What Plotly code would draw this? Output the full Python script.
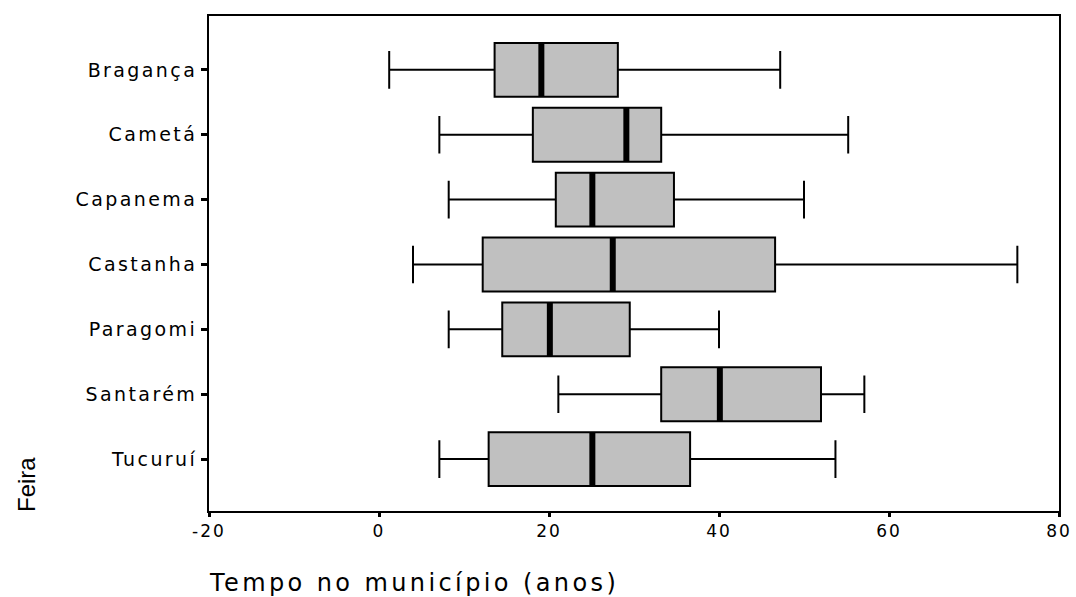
import plotly.graph_objects as go

categories = ["Bragança", "Cametá", "Capanema", "Castanha", "Paragomi", "Santarém", "Tucuruí"]
lower = [1.2, 7.1, 8.2, 4.0, 8.2, 21.1, 7.1]
q1 = [13.6, 18.1, 20.8, 12.2, 14.5, 33.2, 12.9]
median = [19.1, 29.1, 25.1, 27.5, 20.1, 40.1, 25.1]
q3 = [28.1, 33.2, 34.7, 46.6, 29.5, 52.0, 36.6]
upper = [47.2, 55.2, 50.0, 75.1, 40.0, 57.1, 53.7]
xticks = [-20, 0, 20, 40, 60, 80]

pos = list(range(len(categories)))
BOXW = 0.83


def spaced(t, px):
    return '<span style="letter-spacing:%spx">%s</span>' % (px, t)


fig = go.Figure()
fig.add_trace(go.Box(
    y=pos, orientation="h",
    q1=q1, median=median, q3=q3, lowerfence=lower, upperfence=upper,
    fillcolor="#c0c0c0", line=dict(color="black", width=2),
    whiskerwidth=0.7, width=BOXW, boxpoints=False, hoverinfo="skip",
    showlegend=False,
))
for i, m in enumerate(median):
    fig.add_trace(go.Scatter(
        x=[m, m], y=[i - BOXW / 2, i + BOXW / 2], mode="lines",
        line=dict(color="black", width=6), showlegend=False, hoverinfo="skip",
    ))

font = "DejaVu Sans, Verdana, sans-serif"
L, R, T, B = 209, 17, 16, 86
fig.update_layout(
    width=1076, height=597,
    margin=dict(l=L, r=R, t=T, b=B, autoexpand=False),
    paper_bgcolor="white", plot_bgcolor="white",
    font=dict(family=font, color="black", size=18),
    xaxis=dict(range=[-20, 80], tickvals=xticks, ticktext=[spaced(str(v), 2) for v in xticks],
               ticks="outside", ticklen=4, tickwidth=3, automargin=False,
               tickcolor="black", showgrid=False, zeroline=False, showline=True,
               linecolor="black", linewidth=2, mirror=True, tickfont=dict(size=17)),
    yaxis=dict(range=[6.8, -0.83], tickvals=pos, ticktext=[spaced(c, 2.4) for c in categories],
               ticks="outside", automargin=False,
               ticklen=6, tickwidth=3, tickcolor="black", showgrid=False, zeroline=False,
               showline=True, linecolor="black", linewidth=2, mirror=True,
               tickfont=dict(size=19)),
)
pw = 1076 - L - R
ph = 597 - T - B
fig.add_annotation(text=spaced("Tempo no município (anos)", 3.4), x=(207 - L) / pw,
                   y=(597 - B - 583) / ph, xref="paper", yref="paper", showarrow=False,
                   font=dict(size=24), xanchor="left", yanchor="middle")
fig.add_annotation(text="Feira", x=(26 - L) / pw, y=(597 - B - 485) / ph,
                   xref="paper", yref="paper", showarrow=False, textangle=-90,
                   font=dict(size=24, family="Liberation Sans, Arial, sans-serif"),
                   xanchor="center", yanchor="middle")

fig.write_html("out.html")
